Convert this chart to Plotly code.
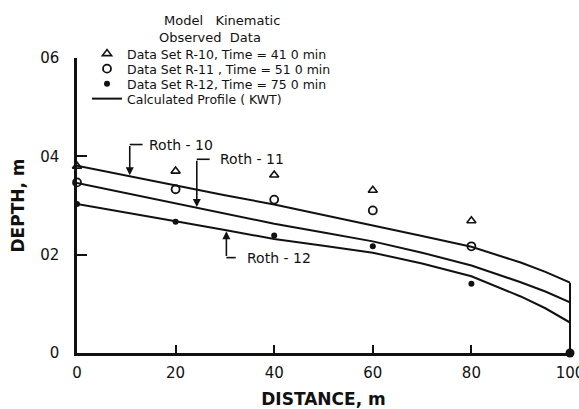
import numpy as np
import plotly.graph_objects as go

# ---------------- data ----------------
obs_x = [0, 20, 40, 60, 80, 100]
r10_depth = [0.380, 0.370, 0.362, 0.331, 0.269, 0.0]
r11_depth = [0.347, 0.333, 0.312, 0.290, 0.217, 0.0]
r12_depth = [0.303, 0.267, 0.239, 0.217, 0.141, 0.0]

calc_x = [0, 10, 20, 30, 40, 50, 60, 70, 80, 90, 95, 100]
roth10 = [0.381, 0.361, 0.340, 0.321, 0.302, 0.281, 0.259, 0.238, 0.216, 0.184, 0.165, 0.143]
roth11 = [0.346, 0.325, 0.304, 0.283, 0.263, 0.245, 0.227, 0.204, 0.178, 0.144, 0.125, 0.103]
roth12 = [0.303, 0.286, 0.268, 0.250, 0.232, 0.218, 0.204, 0.182, 0.156, 0.115, 0.091, 0.062]

x_ticks = [0, 20, 40, 60, 80, 100]
x_ticktext = ["0", "20", "40", "60", "80", "100"]
y_ticks = [0, 0.2, 0.4, 0.6]
y_ticktext = ["0", "02", "04", "06"]

legend_names = [
    "Data Set R-10, Time = 41 0 min",
    "Data Set R-11 , Time = 51 0 min",
    "Data Set R-12, Time = 75 0 min",
    "Calculated Profile ( KWT)",
]

FONT = "DejaVu Sans"
BLACK = "#111111"
Y_MAX = 0.6

# plot-area geometry (pixels) used for placing legends/annotations
L, R, T, B = 77, 9, 58, 56
PW, PH = 579 - L - R, 409 - T - B


def px_x(p):
    return (p - L) / PW


def px_y(p):
    return (409 - B - p) / PH


fig = go.Figure()

fig.add_trace(go.Scatter(x=obs_x[:-1], y=r10_depth[:-1], mode="markers", name=legend_names[0],
                         legend="legend",
                         marker=dict(symbol="triangle-up-open", size=8, color=BLACK, line=dict(width=1.6)),
                         cliponaxis=False))
fig.add_trace(go.Scatter(x=obs_x[:-1], y=r11_depth[:-1], mode="markers", name=legend_names[1],
                         legend="legend2",
                         marker=dict(symbol="circle-open", size=8, color=BLACK, line=dict(width=1.8)),
                         cliponaxis=False))
fig.add_trace(go.Scatter(x=obs_x, y=r12_depth, mode="markers", name=legend_names[2],
                         legend="legend3",
                         marker=dict(symbol="circle", size=6, color=BLACK),
                         cliponaxis=False))

for i, prof in enumerate([roth10, roth11, roth12]):
    fig.add_trace(go.Scatter(x=calc_x, y=prof, mode="lines", name=legend_names[3],
                             legend="legend4",
                             line=dict(color=BLACK, width=2), showlegend=(i == 0)))

# end wall at x = 100 (paper refs so it is not clipped at the plot edge)
fig.add_shape(type="line", xref="paper", yref="paper", x0=1, x1=1, y0=0, y1=roth10[-1] / Y_MAX,
              line=dict(color=BLACK, width=2))
# big dot at end
fig.add_trace(go.Scatter(x=[obs_x[-1]], y=[r10_depth[-1]], mode="markers", showlegend=False,
                         marker=dict(symbol="circle", size=9, color=BLACK), cliponaxis=False))

# Roth labels with bracket arrows
labels = [
    dict(text="Roth - 10", xa=10.7, ytop=0.424, xh=13.3, xt=14.2, prof=roth10),
    dict(text="Roth - 11", xa=24.3, ytop=0.394, xh=26.9, xt=28.6, prof=roth11),
    dict(text="Roth - 12", xa=30.3, ytop=0.194, xh=32.2, xt=34.1, prof=roth12),
]
for lab in labels:
    ytip = float(np.interp(lab["xa"], calc_x, lab["prof"]))
    fig.add_shape(type="line", x0=lab["xa"], x1=lab["xh"], y0=lab["ytop"], y1=lab["ytop"],
                  line=dict(color=BLACK, width=1.6))
    fig.add_annotation(x=lab["xa"], y=ytip, ax=lab["xa"], ay=lab["ytop"], axref="x", ayref="y",
                       text="", showarrow=True, arrowhead=2, arrowsize=1.0, arrowwidth=1.6,
                       arrowcolor=BLACK, standoff=1)
    fig.add_annotation(x=lab["xt"], y=lab["ytop"], text=lab["text"], showarrow=False,
                       xanchor="left", yanchor="middle",
                       font=dict(family=FONT, size=14, color=BLACK))

fig.add_annotation(x=px_x(222), y=px_y(20), xref="paper", yref="paper", text="Model   Kinematic",
                   showarrow=False, xanchor="center", yanchor="middle",
                   font=dict(family=FONT, size=13, color=BLACK))
fig.add_annotation(x=px_x(210), y=px_y(37.5), xref="paper", yref="paper", text="Observed  Data",
                   showarrow=False, xanchor="center", yanchor="middle",
                   font=dict(family=FONT, size=13, color=BLACK))

row_y = [54, 69, 84, 99]
leg_common = dict(x=px_x(87), xanchor="left", yanchor="middle", bgcolor="rgba(0,0,0,0)",
                  font=dict(family=FONT, size=12.5, color=BLACK), itemwidth=30)
legends = {}
for k, yy in enumerate(row_y):
    key = "legend" if k == 0 else f"legend{k + 1}"
    legends[key] = dict(leg_common, y=px_y(yy))

fig.update_layout(
    width=579, height=409,
    margin=dict(l=L, r=R, t=T, b=B),
    paper_bgcolor="white", plot_bgcolor="white",
    font=dict(family=FONT, color=BLACK),
    showlegend=True,
    **legends,
    xaxis=dict(range=[0, 100], tickvals=x_ticks, ticktext=x_ticktext, ticks="inside",
               ticklen=8, tickwidth=2, tickcolor=BLACK, showline=True, linewidth=2.5,
               linecolor=BLACK, showgrid=False, zeroline=False, ticklabelstandoff=4,
               ticklabeloverflow="allow", automargin=False,
               tickfont=dict(family=FONT, size=15, color=BLACK),
               title=dict(text="DISTANCE, m", standoff=20,
                          font=dict(family=FONT, size=17, color=BLACK, weight="bold"))),
    yaxis=dict(range=[0, Y_MAX], tickvals=y_ticks, ticktext=y_ticktext, ticks="inside",
               ticklen=10, tickwidth=2, tickcolor=BLACK, showline=True, linewidth=2.5,
               linecolor=BLACK, showgrid=False, zeroline=False, ticklabelstandoff=12,
               automargin=False,
               tickfont=dict(family=FONT, size=15, color=BLACK),
               title=dict(text="DEPTH, m", standoff=12,
                          font=dict(family=FONT, size=17, color=BLACK, weight="bold"))),
)

fig.write_html("out.html")
